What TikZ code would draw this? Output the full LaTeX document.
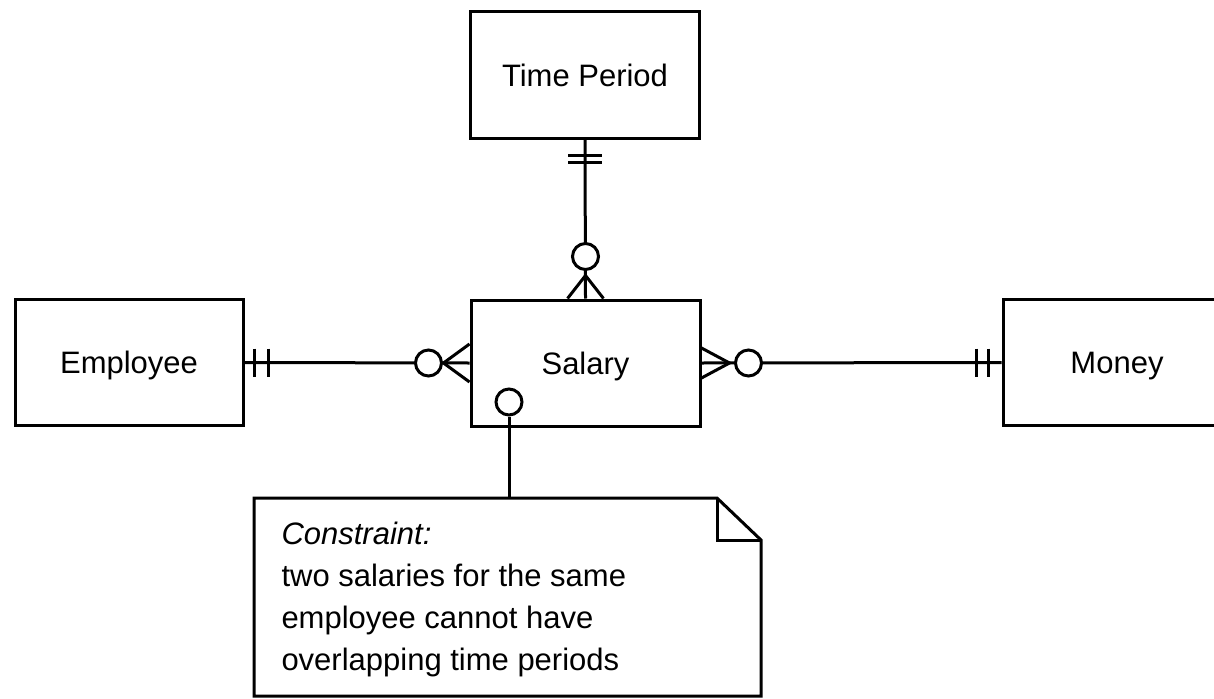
\documentclass[tikz,border=0pt]{standalone}
\usepackage{fontspec}
\setmainfont{Liberation Sans}
\usetikzlibrary{calc}
\begin{document}
\begin{tikzpicture}[x=1pt,y=-1pt,line width=3pt,line join=miter,
  ent/.style={draw,rectangle,minimum width=229pt,minimum height=126pt,inner sep=0pt,
    text height=22.2pt,text depth=0pt,font=\fontsize{31}{37}\selectfont},
  ring/.style={draw,circle,fill=white,minimum size=26pt,inner sep=0pt},
  bar/.style={line width=3pt},
  notetext/.style={anchor=north west,inner sep=0pt,align=left,font=\fontsize{31}{42}\selectfont}]
\useasboundingbox (0,0) rectangle (1214,698);
\clip (0,0) rectangle (1214,698);
% entities
\node[ent] (tp)  at (585,75)    {Time Period};
\node[ent,minimum width=228pt] (emp) at (129,362.5) {Employee};
\node[ent] (sal) at (585.5,363) {Salary};
\node[ent,minimum width=228pt] (mon) at (1117,362.5) {Money};
% Time Period -- Salary
\draw (tp.south) -- (sal.north);
\draw[bar] ($(tp.south)+(-17,16)$) -- ++(34,0);
\draw[bar] ($(tp.south)+(-17,23)$) -- ++(34,0);
\draw ($(sal.north)+(-18,0)$) -- ($(sal.north)+(0,-23)$) -- ($(sal.north)+(18,0)$);
\node[ring] (rtop) at ($(sal.north)+(0,-42)$) {};
% Employee -- Salary
\draw (emp.east) -- (sal.west);
\draw[bar] ($(emp.east)+(10,-14)$) -- ++(0,28);
\draw[bar] ($(emp.east)+(24,-14)$) -- ++(0,28);
\draw ($(sal.west)+(0,-19)$) -- ($(sal.west)+(-26,0)$) -- ($(sal.west)+(0,19)$);
\node[ring] (rleft) at ($(sal.west)+(-41,0)$) {};
% Salary -- Money
\draw (sal.east) -- (mon.west);
\draw[bar] ($(mon.west)+(-25,-14)$) -- ++(0,28);
\draw[bar] ($(mon.west)+(-13,-14)$) -- ++(0,28);
\draw ($(sal.east)+(0,-15)$) -- ($(sal.east)+(28,0)$) -- ($(sal.east)+(0,15)$);
\node[ring] (rright) at ($(sal.east)+(47,0)$) {};
% constraint note
\draw (254,498) -- (717,498) -- (761,540) -- (761,696) -- (254,696) -- cycle;
\draw (717,498) -- (717,540) -- (761,540);
\coordinate (ntop) at (509,498);
\node[ring] (nc) at (509,402) {};
\draw (nc.south) -- (ntop);
\node[notetext] (ntext) at (280,521) {\textit{Constraint:}\\two salaries for the same\\employee cannot have\\overlapping time periods};
\end{tikzpicture}
\end{document}
